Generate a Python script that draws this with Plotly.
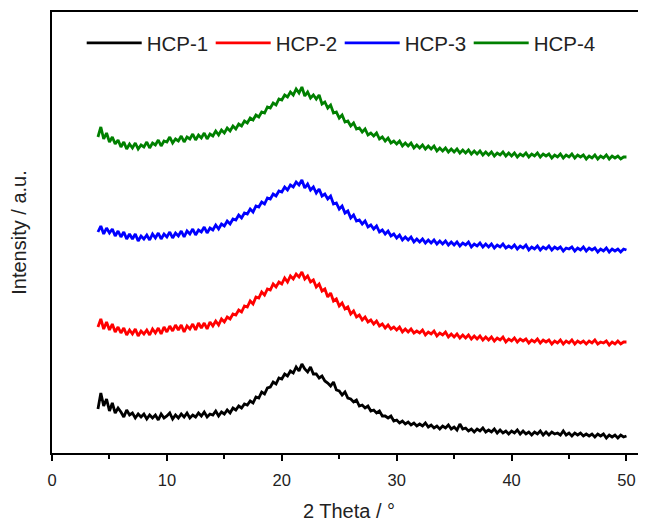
import plotly.graph_objects as go

# 2-theta scan grid: 4.00 to 50.00 degrees, 0.25 degree step
two_theta = [round(4 + 0.25 * i, 2) for i in range(185)]

hcp1 = [44, 60, 47, 54, 42, 50, 40, 45, 41, 36, 43, 38, 40, 35, 39, 36, 39, 34, 38, 35,
        38, 33, 39, 35, 37, 40, 34, 38, 35, 39, 36, 40, 35, 38, 36, 40, 37, 41, 36, 39,
        38, 42, 37, 41, 39, 43, 40, 45, 43, 47, 45, 49, 48, 52, 50, 56, 55, 61, 59, 65,
        66, 71, 69, 75, 74, 79, 77, 82, 80, 86, 82, 89, 84, 81, 86, 79, 79, 75, 77, 72,
        70, 67, 71, 63, 62, 58, 61, 55, 54, 51, 53, 47, 48, 45, 47, 42, 43, 40, 42, 37,
        37, 35, 37, 32, 33, 30, 32, 29, 31, 28, 30, 27, 29, 27, 30, 26, 28, 25, 27, 24,
        27, 25, 28, 24, 26, 23, 29, 24, 25, 22, 24, 21, 24, 22, 25, 21, 23, 21, 24, 20,
        23, 20, 22, 19, 22, 20, 23, 19, 22, 19, 21, 18, 21, 19, 22, 18, 21, 18, 21, 19,
        20, 18, 22, 18, 20, 17, 20, 18, 20, 17, 19, 17, 19, 16, 19, 17, 19, 15, 18, 16,
        18, 15, 18, 16, 17]

hcp2 = [126, 134, 124, 131, 123, 129, 121, 126, 120, 125, 118, 123, 119, 124, 117, 122,
        119, 123, 118, 124, 120, 125, 119, 126, 121, 127, 122, 128, 123, 128, 121, 127,
        124, 129, 123, 130, 125, 130, 124, 131, 127, 132, 128, 134, 131, 136, 134, 139,
        138, 143, 141, 147, 146, 152, 149, 156, 155, 161, 158, 164, 163, 169, 166, 171,
        169, 175, 171, 177, 174, 179, 176, 181, 174, 177, 171, 173, 166, 169, 162, 164,
        156, 160, 152, 154, 147, 150, 144, 146, 139, 142, 136, 138, 133, 136, 131, 133,
        129, 132, 127, 129, 125, 128, 124, 126, 123, 126, 121, 124, 121, 124, 120, 122,
        120, 123, 118, 121, 119, 122, 117, 120, 118, 121, 116, 119, 116, 119, 115, 118,
        115, 118, 114, 117, 114, 117, 113, 116, 113, 116, 112, 115, 113, 116, 111, 114,
        112, 115, 111, 114, 112, 114, 110, 113, 111, 114, 110, 113, 111, 113, 109, 112,
        110, 113, 109, 112, 110, 113, 109, 112, 110, 112, 109, 112, 110, 113, 109, 111,
        110, 112, 108, 111, 109, 112, 109, 111, 111]

hcp3 = [221, 227, 219, 225, 220, 224, 217, 222, 216, 221, 214, 219, 214, 219, 212, 217,
        214, 218, 213, 219, 215, 220, 214, 219, 216, 221, 215, 220, 217, 222, 216, 222,
        219, 224, 218, 223, 221, 226, 220, 225, 223, 228, 224, 229, 227, 232, 229, 234,
        233, 238, 235, 240, 239, 244, 241, 247, 246, 251, 249, 255, 254, 259, 257, 262,
        261, 266, 263, 268, 266, 271, 268, 273, 265, 269, 263, 266, 260, 264, 257, 259,
        254, 257, 249, 250, 244, 247, 240, 242, 235, 238, 232, 233, 229, 232, 226, 228,
        224, 227, 221, 223, 219, 222, 217, 219, 215, 218, 213, 216, 213, 216, 211, 214,
        211, 214, 210, 213, 210, 213, 209, 212, 209, 212, 208, 211, 208, 211, 207, 210,
        208, 211, 206, 209, 207, 210, 206, 209, 206, 209, 205, 208, 206, 209, 205, 207,
        205, 208, 204, 207, 205, 208, 203, 206, 204, 207, 203, 206, 204, 207, 203, 206,
        204, 206, 202, 205, 204, 206, 202, 205, 203, 206, 202, 205, 203, 205, 201, 204,
        202, 205, 201, 204, 202, 204, 201, 204, 203]

hcp4 = [316, 326, 314, 320, 311, 316, 309, 313, 306, 311, 304, 309, 305, 310, 304, 308,
        306, 311, 305, 310, 308, 313, 307, 312, 311, 316, 310, 314, 312, 317, 311, 316,
        314, 319, 313, 318, 315, 320, 314, 319, 317, 322, 318, 323, 320, 325, 322, 327,
        324, 329, 327, 332, 330, 335, 333, 338, 336, 341, 340, 346, 345, 350, 348, 354,
        353, 358, 356, 361, 358, 364, 360, 366, 357, 361, 355, 358, 354, 358, 349, 351,
        345, 348, 340, 341, 335, 338, 331, 332, 327, 330, 324, 325, 321, 324, 318, 320,
        317, 320, 314, 316, 312, 315, 310, 312, 309, 312, 307, 310, 307, 310, 305, 308,
        305, 308, 304, 307, 304, 307, 302, 305, 302, 305, 301, 304, 301, 304, 300, 303,
        300, 303, 299, 302, 299, 302, 298, 301, 298, 301, 297, 300, 298, 301, 297, 300,
        297, 300, 296, 299, 297, 300, 296, 299, 297, 300, 296, 299, 297, 299, 295, 298,
        296, 299, 295, 298, 296, 299, 295, 298, 296, 298, 294, 297, 295, 298, 294, 297,
        295, 298, 294, 297, 295, 297, 294, 296, 296]

series_names = ["HCP-1", "HCP-2", "HCP-3", "HCP-4"]
series_values = [hcp1, hcp2, hcp3, hcp4]
series_colors = ["#000000", "#ff0000", "#0000ff", "#008000"]

x_tick_vals = [0, 10, 20, 30, 40, 50]
x_tick_text = ["0", "10", "20", "30", "40", "50"]

fig = go.Figure()
for name, vals, col in zip(series_names, series_values, series_colors):
    fig.add_trace(go.Scatter(x=two_theta, y=vals, mode="lines", name=name,
                             line=dict(color=col, width=2.8)))

font_family = "Arial, Liberation Sans, sans-serif"
fig.update_layout(
    width=638, height=515,
    margin=dict(l=44, r=0, t=4, b=70, autoexpand=False),
    paper_bgcolor="white", plot_bgcolor="white",
    font=dict(family=font_family, color="#222222"),
    showlegend=True,
    legend=dict(orientation="h", x=0.05, y=0.975, xanchor="left", yanchor="top",
                font=dict(size=20.5, family=font_family, color="#222222"),
                itemwidth=55, entrywidth=59, entrywidthmode="pixels",
                bgcolor="rgba(0,0,0,0)", tracegroupgap=0),
    xaxis=dict(range=[0, 51.7], showgrid=False, zeroline=False, automargin=False,
               showline=True, linecolor="black", linewidth=1.5, mirror=True,
               ticks="outside", ticklen=6, tickwidth=1.5, tickcolor="black",
               ticklabelstandoff=5,
               tickvals=x_tick_vals, ticktext=x_tick_text,
               tickfont=dict(size=16.5, family=font_family, color="#222222"),
               minor=dict(dtick=5, tick0=0, ticks="outside", ticklen=4,
                          tickwidth=1.5, tickcolor="black"),
               title=dict(text="2 Theta / °", font=dict(size=20, family=font_family, color="#222222"),
                          standoff=16)),
    yaxis=dict(range=[0, 441], showgrid=False, zeroline=False, automargin=False,
               showline=True, linecolor="black", linewidth=1.5, mirror=False,
               ticks="", showticklabels=False,
               title=dict(text="Intensity / a.u.", font=dict(size=20, family=font_family, color="#222222"),
                          standoff=18)),
)

fig.write_html("out.html")
